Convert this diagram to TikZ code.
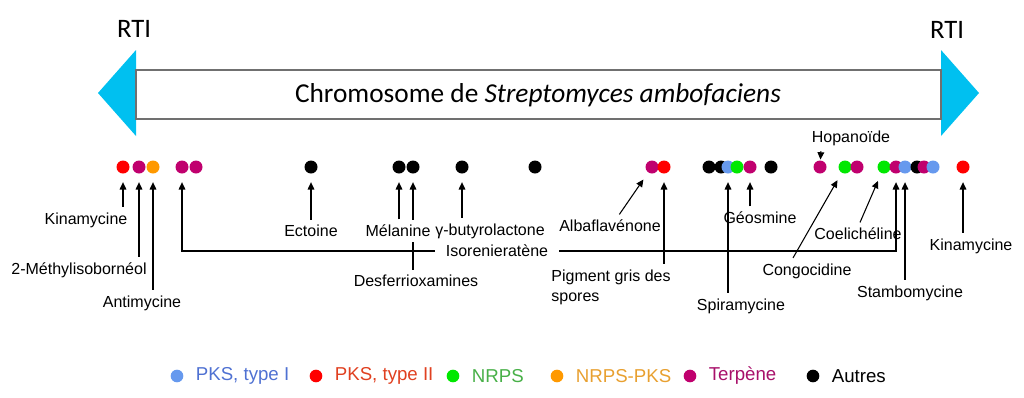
\documentclass[tikz,border=0pt]{standalone}
\usepackage{fontspec}
\setmainfont{Liberation Sans}
\newfontfamily\calibri{Carlito}
\usetikzlibrary{arrows.meta,positioning,backgrounds}

\definecolor{pksone}{RGB}{102,153,238}
\definecolor{pkstwo}{RGB}{255,0,0}
\definecolor{nrps}{RGB}{0,232,0}
\definecolor{nrpspks}{RGB}{255,153,0}
\definecolor{terpene}{RGB}{192,0,110}
\definecolor{autres}{RGB}{0,0,0}
\definecolor{pksonetxt}{RGB}{79,113,210}
\definecolor{pkstwotxt}{RGB}{224,64,32}
\definecolor{nrpstxt}{RGB}{72,176,72}
\definecolor{nrpspkstxt}{RGB}{232,160,48}
\definecolor{terpenetxt}{RGB}{168,16,106}
\definecolor{rticyan}{RGB}{0,192,240}
\definecolor{chromgray}{RGB}{112,112,112}

\begin{document}
\begin{tikzpicture}[x=0.75pt,y=-0.75pt]
      % Define styles for nodes
      \tikzstyle{dot} = [circle, inner sep=0pt, minimum size=9.75pt]
      \tikzstyle{gene} = [font=\fontsize{12}{15}\selectfont, inner xsep=1pt,
      inner ysep=4pt]
      \tikzstyle{link} = [-{Triangle[length=5.5pt,width=5pt]}, line width=0.8pt,
      shorten >=6.3pt]
      \tikzstyle{legdot} = [circle, inner sep=0pt, minimum size=9.5pt]
      \tikzstyle{legtext} = [font=\fontsize{14}{16}\selectfont, inner sep=0pt]

      \useasboundingbox (0,0) rectangle (1024,397);

      % Chromosome with the two RTI
      \fill[rticyan] (136,50) -- (98,93) -- (136,136) -- cycle;
      \fill[rticyan] (941,50) -- (979,93) -- (941,136) -- cycle;
      \draw[chromgray, line width=1.1pt, fill=white] (136,70) rectangle (941,119);
      \node[font=\calibri\fontsize{20.5}{24}\selectfont] (title) at (538,95)
      {Chromosome de \textit{Streptomyces ambofaciens}};
      \node[font=\calibri\fontsize{20}{24}\selectfont] (rtiL) at (134,29) {RTI};
      \node[font=\calibri\fontsize{20}{24}\selectfont] (rtiR) at (947,30) {RTI};

      % Clusters along the chromosome
      \foreach \x/\c [count=\i] in {123/pkstwo, 139/terpene, 153/nrpspks,
        182/terpene, 196/terpene, 311/autres, 399/autres, 413/autres,
        462/autres, 535/autres, 652/terpene, 664/pkstwo, 709/autres,
        721/autres, 728/pksone, 737/nrps, 750/terpene, 771/autres,
        820/terpene, 845/nrps, 857/terpene, 884/nrps, 896/terpene,
        905/pksone, 917/autres, 924/terpene, 933/pksone, 963/pkstwo}
        \node[dot, fill=\c] (d\i) at (\x,167) {};

      % Names of the clusters
      \node[gene] (kinL) at (86,220) {Kinamycine};
      \node[gene] (mib) at (79,270) {2-Méthylisobornéol};
      \node[gene] (anti) at (142,303) {Antimycine};
      \node[gene] (ecto) at (311,231) {Ectoine};
      \node[gene, fill=white] (mela) at (398,231) {Mélanine};
      \node[gene] (gbl) at (490,231) {γ-butyrolactone};
      \node[gene, inner xsep=8pt] (iso) at (497,251) {Isorenieratène};
      \node[gene] (desf) at (416,281) {Desferrioxamines};
      \node[gene] (alba) at (610,226) {Albaflavénone};
      \node[gene, align=left] (pig) at (611,287) {Pigment gris des\\spores};
      \node[gene] (geos) at (760,218) {Géosmine};
      \node[gene] (spir) at (741,306) {Spiramycine};
      \node[gene] (hopa) at (851,138) {Hopanoïde};
      \node[gene] (cong) at (807,271) {Congocidine};
      \node[gene] (coel) at (858,234) {Coelichéline};
      \node[gene] (stam) at (910,293) {Stambomycine};
      \node[gene] (kinR) at (971,246) {Kinamycine};

      % Connections
      \begin{pgfonlayer}{background}
      \draw[link] (d1 |- kinL.north) -- (d1);
      \draw[link] (d2 |- mib.north) -- (d2);
      \draw[link] (d3 |- anti.north) -- (d3);
      \draw[link] (iso.west) -| (d4);
      \draw[link] (iso.east) -| (d23);
      \draw[link] (d6 |- ecto.north) -- (d6);
      \draw[link] (d7 |- mela.north) -- (d7);
      \draw[link] (d8 |- desf.north) -- (d8);
      \draw[link] (d9 |- gbl.north) -- (d9);
      \draw[link] ([xshift=7pt]alba.north) -- (d11);
      \draw[link] (d12 |- pig.north) -- (d12);
      \draw[link] (d15 |- spir.north) -- (d15);
      \draw[link] (d17 |- geos.north) -- (d17);
      \draw[link, shorten >=0.5pt] ([xshift=8pt]hopa.south west) -- (d19);
      \draw[link] ([xshift=-10.5pt]cong.north) -- (d20);
      \draw[link] ([xshift=1.5pt]coel.north) -- (d22);
      \draw[link] (d24 |- stam.north) -- (d24);
      \draw[link] (d28 |- kinR.north) -- (d28);
      \end{pgfonlayer}

      % Legend
      \foreach \x/\c/\tc/\t [count=\i] in {177/pksone/pksonetxt/{PKS, type I},
        316/pkstwo/pkstwotxt/{PKS, type II}, 453/nrps/nrpstxt/NRPS,
        557/nrpspks/nrpspkstxt/NRPS-PKS, 690/terpene/terpenetxt/Terpène,
        813/autres/black/Autres}
      {
        \node[legdot, fill=\c] (leg\i) at (\x,376) {};
        \node[legtext, text=\tc, right=9pt of leg\i] (legt\i) {\t};
      }
    \end{tikzpicture}
\end{document}
